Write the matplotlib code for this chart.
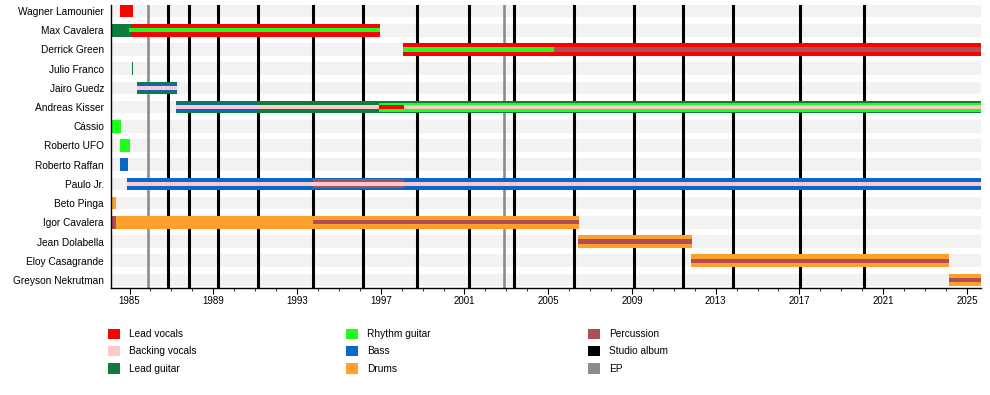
import matplotlib
matplotlib.use("Agg")
import matplotlib.pyplot as plt
from matplotlib.patches import Patch

plt.rcParams['font.family'] = ['Liberation Sans', 'DejaVu Sans']

# ---------------- data ----------------
members = ["Wagner Lamounier", "Max Cavalera", "Derrick Green", "Julio Franco",
           "Jairo Guedz", "Andreas Kisser", "Cássio", "Roberto UFO",
           "Roberto Raffan", "Paulo Jr.", "Beto Pinga", "Igor Cavalera",
           "Jean Dolabella", "Eloy Casagrande", "Greyson Nekrutman"]

x_start = 1984.10
x_end = 2025.69

roles = ["Lead vocals", "Backing vocals", "Lead guitar", "Rhythm guitar",
         "Bass", "Drums", "Percussion"]

# (member, role, start, end) -- primary (full-width) role bars
primary = [
    ("Wagner Lamounier", "Lead vocals", 1984.55, 1985.15),
    ("Max Cavalera", "Lead guitar", 1984.10, 1985.10),
    ("Max Cavalera", "Lead vocals", 1985.10, 1996.95),
    ("Derrick Green", "Lead vocals", 1998.08, 2025.69),
    ("Julio Franco", "Lead guitar", 1985.11, 1985.16),
    ("Jairo Guedz", "Lead guitar", 1985.36, 1987.25),
    ("Andreas Kisser", "Lead guitar", 1987.22, 2025.69),
    ("Cássio", "Rhythm guitar", 1984.10, 1984.58),
    ("Roberto UFO", "Rhythm guitar", 1984.55, 1985.02),
    ("Roberto Raffan", "Bass", 1984.55, 1984.93),
    ("Paulo Jr.", "Bass", 1984.88, 2025.69),
    ("Beto Pinga", "Drums", 1984.10, 1984.37),
    ("Igor Cavalera", "Percussion", 1984.10, 1984.37),
    ("Igor Cavalera", "Drums", 1984.37, 2006.46),
    ("Jean Dolabella", "Drums", 2006.43, 2011.87),
    ("Eloy Casagrande", "Drums", 2011.84, 2024.15),
    ("Greyson Nekrutman", "Drums", 2024.15, 2025.69),
]

# secondary role bars (drawn inside primary)
secondary = [
    ("Jairo Guedz", "Bass", 1985.36, 1987.25),
    ("Andreas Kisser", "Bass", 1987.22, 1991.15),
    ("Andreas Kisser", "Rhythm guitar", 1996.90, 2025.69),
    ("Paulo Jr.", "Percussion", 1993.78, 1998.10),
]

# tertiary role bars (thin centre stripe)
tertiary = [
    ("Max Cavalera", "Rhythm guitar", 1984.99, 1996.95),
    ("Derrick Green", "Rhythm guitar", 1998.08, 2005.28),
    ("Derrick Green", "Percussion", 2005.28, 2025.69),
    ("Jairo Guedz", "Backing vocals", 1985.36, 1987.25),
    ("Andreas Kisser", "Backing vocals", 1987.22, 1996.90),
    ("Andreas Kisser", "Lead vocals", 1996.90, 1998.10),
    ("Andreas Kisser", "Backing vocals", 1998.10, 2025.69),
    ("Paulo Jr.", "Backing vocals", 1984.88, 2025.69),
    ("Igor Cavalera", "Percussion", 1993.78, 2006.46),
    ("Jean Dolabella", "Percussion", 2006.43, 2011.87),
    ("Eloy Casagrande", "Percussion", 2011.84, 2024.15),
    ("Greyson Nekrutman", "Percussion", 2024.15, 2025.69),
]

studio_albums = [1986.85, 1987.83, 1989.24, 1991.15, 1993.78, 1996.17,
                 1998.75, 2001.20, 2003.37, 2006.21, 2009.08, 2011.44,
                 2013.81, 2017.03, 2020.11]
eps = [1985.90, 2002.87]

major_years = list(range(1985, 2026, 4))
minor_years = list(range(1985, 2026))

# ---------------- style ----------------
colors = {
    "Lead vocals": "#ff0000",
    "Backing vocals": "#ffc8cc",
    "Lead guitar": "#0e7c3a",
    "Rhythm guitar": "#1cff1c",
    "Bass": "#0a66c8",
    "Drums": "#ffa02c",
    "Percussion": "#b04d55",
    "Studio album": "#000000",
    "EP": "#8c8c8c",
}
H_FULL, H_MID, H_THIN = 0.66, 0.47, 0.22

fig = plt.figure(figsize=(9.9, 3.95), dpi=100)
ax = fig.add_axes([110.7 / 990, 1 - 288.0 / 395, (981.3 - 110.7) / 990, 283.3 / 395])

ypos = {m: i for i, m in enumerate(members)}

# background bands
ax.barh(range(len(members)), [x_end - x_start] * len(members), left=x_start,
        height=H_FULL, color="#f2f2f2", zorder=0, linewidth=0)

for x in studio_albums:
    ax.axvline(x, color=colors["Studio album"], lw=2.2, zorder=1)
for x in eps:
    ax.axvline(x, color=colors["EP"], lw=1.9, zorder=1)

for layer, h, z in ((primary, H_FULL, 2), (secondary, H_MID, 3), (tertiary, H_THIN, 4)):
    for m, r, s, e in layer:
        ax.barh(ypos[m], e - s, left=s, height=h, color=colors[r], zorder=z,
                linewidth=0)

ax.set_xlim(x_start, x_end)
ax.set_ylim(14.42, -0.33)
ax.set_yticks(range(len(members)))
ax.set_yticklabels(members, fontsize=7.3)
ax.tick_params(axis='y', length=0, pad=4.8)
ax.set_xticks(major_years)
ax.set_xticklabels([str(y) for y in major_years], fontsize=7)
ax.set_xticks(minor_years, minor=True)
ax.tick_params(axis='x', which='major', length=4, width=0.8, pad=2)
ax.tick_params(axis='x', which='minor', length=2.5, width=0.6)
for sp in ("top", "right"):
    ax.spines[sp].set_visible(False)
ax.spines["left"].set_linewidth(1.0)
ax.spines["bottom"].set_linewidth(1.0)

# legend in three columns
legend_items = [
    ["Lead vocals", "Backing vocals", "Lead guitar"],
    ["Rhythm guitar", "Bass", "Drums"],
    ["Percussion", "Studio album", "EP"],
]
col_x = [108, 346, 588]
for xs, items in zip(col_x, legend_items):
    handles = [Patch(facecolor=colors[k], edgecolor='none', label=k) for k in items]
    fig.legend(handles=handles, loc='upper left',
               bbox_to_anchor=(xs / 990, 1 - 328.5 / 395), frameon=False,
               fontsize=7.3, handlelength=1.2, handleheight=1.2,
               handletextpad=0.9, labelspacing=0.66, borderpad=0,
               borderaxespad=0)

fig.savefig("out.png", dpi=100)
